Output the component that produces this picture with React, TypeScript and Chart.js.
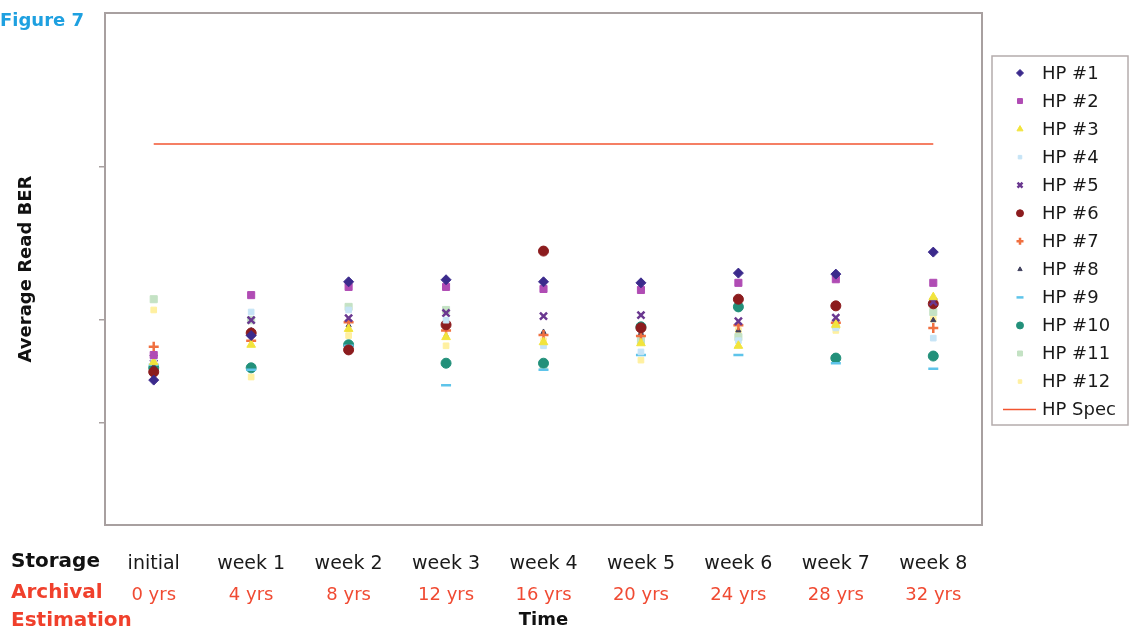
import React, { useEffect, useRef } from "react";
import { Chart, registerables } from "chart.js";
import { drawPoint } from "chart.js/helpers";

Chart.register(...registerables);

// ---- data ----
const weekLabels = ["initial", "week 1", "week 2", "week 3", "week 4", "week 5", "week 6", "week 7", "week 8"];
const yearLabels = ["0 yrs", "4 yrs", "8 yrs", "12 yrs", "16 yrs", "20 yrs", "24 yrs", "28 yrs", "32 yrs"];
const yTickValues = [2, 4, 7];

const hp1 = [2.83, 3.7, 4.75, 4.79, 4.75, 4.73, 4.92, 4.9, 5.33];
const hp2 = [3.32, 4.49, 4.65, 4.65, 4.61, 4.59, 4.73, 4.8, 4.73];
const hp3 = [3.18, 3.52, 3.83, 3.67, 3.57, 3.55, 3.5, 3.91, 4.45];
const hp4 = [3.22, 4.16, 4.2, 4.0, 3.5, 3.38, 3.6, 3.85, 3.65];
const hp5 = [3.26, 4.0, 4.04, 4.14, 4.08, 4.1, 3.98, 4.05, 4.36];
const hp6 = [2.99, 3.75, 3.42, 3.91, 5.35, 3.85, 4.41, 4.28, 4.32];
const hp7 = [3.48, 3.6, 3.96, 3.8, 3.71, 3.69, 3.9, 3.95, 3.85];
const hp8 = [3.1, 3.8, 3.9, 3.7, 3.77, 3.75, 3.8, 4.02, 4.0];
const hp9 = [3.13, 3.03, 3.5, 2.73, 3.03, 3.32, 3.32, 3.16, 3.05];
const hp10 = [3.07, 3.07, 3.52, 3.16, 3.16, 3.87, 4.26, 3.26, 3.3];
const hp11 = [4.41, 4.0, 4.26, 4.2, 3.1, 3.6, 3.67, 3.9, 4.16];
const hp12 = [4.2, 2.89, 3.7, 3.5, 3.6, 3.22, 3.8, 3.8, 4.02];
const hpSpec = [7.44, 7.44, 7.44, 7.44, 7.44, 7.44, 7.44, 7.44, 7.44];

const seriesNames = ["HP #1", "HP #2", "HP #3", "HP #4", "HP #5", "HP #6", "HP #7", "HP #8", "HP #9", "HP #10", "HP #11", "HP #12"];
const seriesValues = [hp1, hp2, hp3, hp4, hp5, hp6, hp7, hp8, hp9, hp10, hp11, hp12];
const seriesColors = ["#3b2a8c", "#b04cb4", "#f2e43c", "#c6e4f6", "#6a3890", "#8c1c1e", "#f07040", "#40405e", "#5ec4ea", "#22907a", "#c4e2c4", "#fff0a0"];
const seriesStyles = ["rectRot", "rect", "triangle", "rect", "crossRot", "circle", "cross", "triangle", "line", "circle", "rect", "rect"];
const seriesRadius = [5, 5, 5, 4, 5, 5, 5, 3, 5, 5, 5, 4];
const specName = "HP Spec";
const specColor = "#f25530";

const FONT = "'DejaVu Sans', sans-serif";

const framePlugin = {
  id: "frameAndTexts",
  afterDraw(chart: any) {
    const { ctx, chartArea } = chart;
    ctx.save();
    // plot frame
    ctx.strokeStyle = "#a8a0a0";
    ctx.lineWidth = 2;
    ctx.strokeRect(chartArea.left, chartArea.top, chartArea.right - chartArea.left, chartArea.bottom - chartArea.top);

    // figure label
    ctx.fillStyle = "#1ea0e0";
    ctx.font = `bold 18px ${FONT}`;
    ctx.textBaseline = "middle";
    ctx.textAlign = "left";
    ctx.fillText("Figure 7", 0, 21);

    // row headers
    ctx.font = `bold 20px ${FONT}`;
    ctx.fillStyle = "#111111";
    ctx.fillText("Storage", 11, 562);
    ctx.fillStyle = "#f0402c";
    ctx.fillText("Archival", 11, 593);
    ctx.fillText("Estimation", 11, 621);

    // legend box
    const lx = 992, ly = 56, lw = 136, lh = 369;
    ctx.strokeStyle = "#b4acac";
    ctx.lineWidth = 1.5;
    ctx.strokeRect(lx, ly, lw, lh);
    ctx.font = `18px ${FONT}`;
    chart.data.datasets.forEach((ds: any, i: number) => {
      const cy = 73 + i * 28.05;
      if (ds.showLine === false) {
        ctx.fillStyle = ds.pointBackgroundColor;
        ctx.strokeStyle = ds.pointBorderColor;
        ctx.lineWidth = ds.pointBorderWidth;
        drawPoint(ctx, { pointStyle: ds.pointStyle, rotation: 0, radius: Math.max(2.5, ds.pointRadius - 1.5), borderWidth: ds.pointBorderWidth }, 1020, cy);
      } else {
        ctx.strokeStyle = ds.borderColor;
        ctx.lineWidth = 1.5;
        ctx.beginPath();
        ctx.moveTo(1003, cy);
        ctx.lineTo(1036, cy);
        ctx.stroke();
      }
      ctx.fillStyle = "#1a1a1a";
      ctx.textAlign = "left";
      ctx.textBaseline = "middle";
      ctx.fillText(ds.label, 1042, cy + 1);
    });
    ctx.restore();
  },
};

export default function App() {
  const canvasRef = useRef<HTMLCanvasElement | null>(null);

  useEffect(() => {
    if (!canvasRef.current) return;
    const datasets: any[] = seriesValues.map((vals, i) => ({
      label: seriesNames[i],
      data: vals,
      showLine: false,
      pointStyle: seriesStyles[i],
      pointRadius: seriesRadius[i],
      pointBackgroundColor: seriesColors[i],
      pointBorderColor: seriesColors[i],
      pointBorderWidth: seriesStyles[i] === "crossRot" || seriesStyles[i] === "cross" || seriesStyles[i] === "line" ? 2.5 : 1,
      backgroundColor: seriesColors[i],
      borderColor: seriesColors[i],
      xAxisID: "x",
      yAxisID: "y",
    }));
    datasets.push({
      label: specName,
      data: hpSpec,
      showLine: true,
      borderColor: specColor,
      backgroundColor: specColor,
      borderWidth: 1.5,
      pointRadius: 0,
      xAxisID: "x",
      yAxisID: "y",
    });

    const chart = new Chart(canvasRef.current, {
      type: "line",
      data: { labels: weekLabels, datasets },
      options: {
        responsive: false,
        animation: false,
        devicePixelRatio: 1,
        layout: { padding: { top: 13, right: 150, bottom: 0, left: 0 } },
        plugins: { legend: { display: false }, tooltip: { enabled: false } },
        scales: {
          x: {
            type: "category",
            position: "bottom",
            offset: true,
            grid: { display: false },
            border: { display: false },
            ticks: { color: "#1a1a1a", font: { family: FONT, size: 19 }, padding: 20, maxRotation: 0, autoSkip: false },
            afterFit: (s: any) => { s.height = 49; },
          },
          x2: {
            type: "category",
            position: "bottom",
            labels: yearLabels,
            offset: true,
            grid: { display: false },
            border: { display: false },
            ticks: { color: "#f04a32", font: { family: FONT, size: 18 }, padding: 3, maxRotation: 0, autoSkip: false },
            title: { display: true, text: "Time", color: "#111111", font: { family: FONT, size: 18, weight: "bold" }, padding: { top: 0, bottom: 0 } },
            afterFit: (s: any) => { s.height = 57; },
          },
          y: {
            type: "linear",
            min: 0,
            max: 10,
            position: "left",
            afterBuildTicks: (s: any) => { s.ticks = yTickValues.map((v) => ({ value: v })); },
            ticks: { display: false },
            grid: { display: true, drawOnChartArea: false, drawTicks: true, tickLength: 6, color: "#a8a0a0", lineWidth: 1.5 },
            border: { display: false },
            title: { display: true, text: "Average Read BER", color: "#111111", font: { family: FONT, size: 18, weight: "bold" }, padding: { top: 16, bottom: 0 } },
            afterFit: (s: any) => { s.width = 105; },
          },
        },
      },
      plugins: [framePlugin],
    } as any);
    return () => chart.destroy();
  }, []);

  return (
    <div style={{ position: "fixed", left: 0, top: 0, width: 1132, height: 631, background: "#ffffff" }}>
      <canvas ref={canvasRef} width={1132} height={631} style={{ display: "block" }} />
    </div>
  );
}
